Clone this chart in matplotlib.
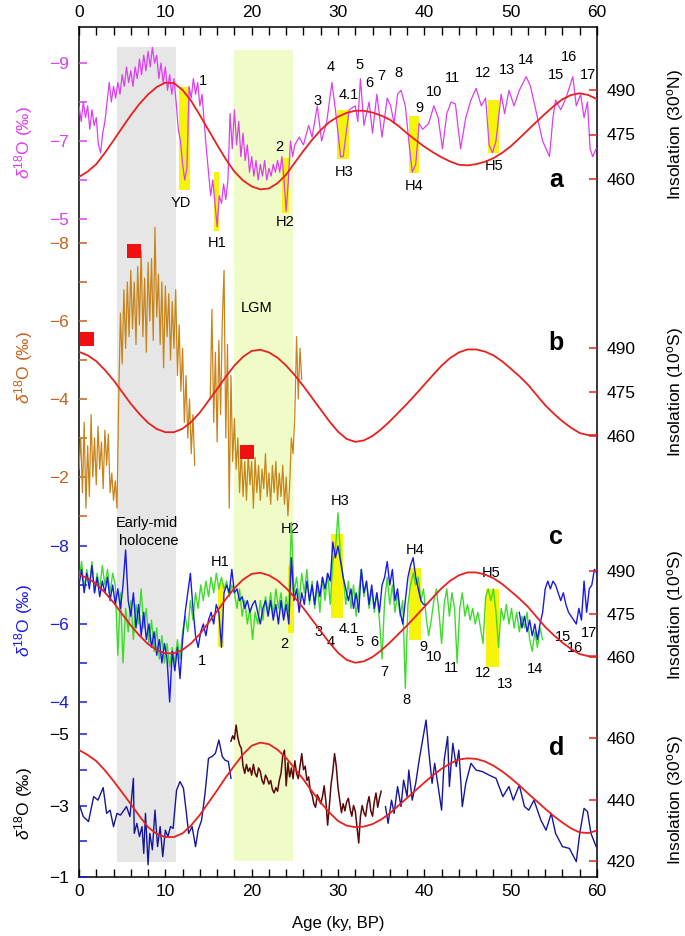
import numpy as np
import matplotlib.pyplot as plt
from matplotlib.patches import Rectangle

plt.rcParams['font.family'] = ['Liberation Sans', 'DejaVu Sans']
plt.rcParams['mathtext.fontset'] = 'custom'
plt.rcParams['mathtext.rm'] = 'Liberation Sans'
plt.rcParams['mathtext.it'] = 'Liberation Sans:italic'
plt.rcParams['mathtext.bf'] = 'Liberation Sans:bold'

# ---------------- data ----------------
# summer insolation (W/m2), read every 1 ky
ins_age = np.arange(0, 61, 1)
ins_30n = [460.7, 462.5, 465, 468.8, 473, 477.3, 481.5, 485.3, 488.5, 491, 492.5,
           492.3, 490, 486.3, 481.5, 476.5, 471.5, 466.7, 462.5, 459.5, 457.5,
           456.5, 456.8, 458.6, 461.5, 465.5, 469.5, 473.2, 476.5, 479.2, 481,
           482.3, 483, 483, 482.4, 481.4, 480, 477.9, 475.4, 473.1, 470.9,
           469, 467.3, 465.9, 464.8, 464.6, 465, 465.8, 467, 468.8, 471,
           473.7, 476.5, 479.3, 482, 484.6, 486.9, 488.3, 488.9, 488.3, 486.9]
ins_10s = [488.7, 487.5, 485.5, 482.5, 479, 475, 471, 467.5, 464.5, 462.4, 461.3,
           461.3, 462.5, 464.8, 468, 472, 476, 480.2, 484, 487, 489,
           489.4, 488.5, 486.7, 484, 480.7, 477, 473, 469, 465, 461.5,
           459, 458, 458.5, 460, 462.3, 465, 468, 471, 474.2, 477.5,
           480.8, 484, 486.6, 488.5, 489.5, 489.5, 488.8, 487.5, 485.5, 483,
           480.4, 477.5, 474, 470.5, 467.6, 465, 462.8, 461, 460.3, 460.3]
ins_30s = [456.1, 454.5, 452.5, 449.5, 446, 442.3, 438.5, 434.6, 431, 428.8, 427.8,
           427.8, 429, 431.6, 435, 439, 443, 447.2, 451, 454.7, 457.5,
           458.5, 458, 456.2, 453.5, 450, 446.5, 442.6, 439, 435.8, 433,
           431.5, 431, 431.2, 432, 433.5, 435.5, 438, 440.5, 443, 445.5,
           447.9, 450, 451.7, 453, 453.4, 453.2, 452.4, 451, 449.2, 447,
           444.6, 442, 439.5, 437, 434.6, 432.5, 430.6, 429.3, 429.1, 429.9]

# (a) 30N speleothem d18O
age_a = np.concatenate([np.linspace(0, 24.75, 100), [
    25.0, 25.5, 26.0, 26.6, 27.0, 27.6, 28.1, 28.7, 29.3, 29.7, 30.0, 30.3, 30.6,
    31.0, 31.3, 32.0, 32.3, 32.6, 33.0, 33.6, 34.0, 34.5, 35.1, 35.7, 36.1, 36.5,
    36.9, 37.3, 37.8, 38.2, 38.6, 39.0, 39.4, 39.8, 40.5, 41.1, 41.6, 42.1, 42.6,
    43.1, 43.6, 44.2, 44.8, 45.4, 46.0, 46.6, 47.1, 47.5, 47.9, 48.3, 48.9, 49.3,
    49.8, 50.4, 51.0, 51.8, 52.3, 53.1, 53.7, 54.5, 54.9, 55.2, 55.8, 56.4, 57.2,
    57.6, 58.1, 58.5, 58.9, 59.2, 59.5, 59.9]])
d18o_a = [
    -7.9, -7.5, -8.0, -7.6, -7.9, -7.3, -7.8, -7.4,
    -7.6, -6.9, -6.7, -7.2, -7.5, -8.0, -8.5, -8.0,
    -8.4, -8.1, -8.5, -8.2, -8.7, -8.4, -8.9, -8.5,
    -8.8, -8.4, -8.9, -8.6, -9.1, -8.7, -9.2, -8.8,
    -9.3, -8.9, -9.4, -9.0, -9.2, -8.6, -9.0, -8.5,
    -8.9, -8.3, -8.7, -8.2, -8.6, -8.0, -7.3, -7.0,
    -6.4, -6.0, -6.3, -8.4, -8.1, -8.6, -8.2, -8.5,
    -7.9, -8.2, -7.5, -6.8, -6.2, -5.6, -6.0, -5.4,
    -4.8, -5.6, -5.4, -5.9, -5.5, -6.0, -7.7, -6.8,
    -7.8, -6.9, -7.5, -6.6, -7.2, -6.5, -6.9, -6.2,
    -6.6, -6.1, -6.5, -6.0, -6.4, -6.1, -6.5, -6.0,
    -6.3, -6.1, -6.4, -6.2, -6.5, -6.2, -6.6, -6.0,
    -5.2, -6.0, -7.0, -6.6,
    -6.9, -7.1, -6.9, -7.4, -7.1, -7.9, -7.0, -7.5, -8.5, -7.8, -7.2, -6.6, -6.6,
    -7.3, -7.8, -7.9, -7.5, -8.6, -7.4, -8.0, -7.2, -8.2, -7.1, -8.1, -7.9, -7.45,
    -8.2, -8.3, -7.9, -7.0, -6.2, -6.4, -7.45, -7.3, -7.45, -7.9, -7.6, -6.8, -7.7,
    -8.0, -7.95, -6.8, -7.6, -8.05, -8.35, -7.9, -8.1, -6.9, -6.7, -7.0, -8.2, -7.7,
    -8.3, -7.9, -8.3, -8.65, -8.4, -7.6, -7.0, -6.6, -7.6, -8.05, -7.8, -8.1, -8.65,
    -7.9, -8.2, -7.6, -8.0, -6.8, -6.6, -6.8]

# (b) 10S speleothem d18O (gap 13.4-15.2 ky)
age_b = np.concatenate([np.linspace(0, 13.4, 68), [14.3], np.linspace(15.2, 25.8, 54)])
d18o_b = [
    -2.2, -3.0, -1.6, -3.4, -1.2, -2.8, -1.5, -3.6, -2.0, -3.0,
    -1.8, -3.3, -2.2, -2.9, -1.7, -3.2, -2.3, -3.1, -1.6, -2.1,
    -1.4, -1.9, -1.2, -4.0, -6.2, -4.9, -6.8, -5.3, -7.0, -5.6,
    -7.3, -5.8, -7.0, -5.4, -7.4, -5.9, -7.8, -5.6, -7.1, -5.2,
    -7.5, -6.0, -7.6, -5.5, -8.4, -6.1, -7.2, -5.4, -7.0, -4.8,
    -6.9, -5.6, -6.7, -5.0, -6.5, -5.3, -6.8, -4.6, -5.9, -4.2,
    -5.3, -3.4, -4.6, -3.0, -4.0, -2.6, -3.6, -2.3,
    np.nan,
    -4.0, -6.3, -3.4, -5.2, -2.9, -5.5, -3.6, -6.0, -7.3, -3.0,
    -5.4, -1.2, -4.6, -2.4, -3.5, -2.2, -3.0, -1.6, -2.7, -1.5,
    -2.4, -1.4, -2.6, -1.8, -2.4, -1.2, -2.5, -1.6, -2.3, -1.4,
    -2.2, -1.7, -2.6, -1.5, -2.1, -1.3, -2.3, -1.6, -2.4, -1.4,
    -2.1, -1.5, -2.3, -1.3, -2.0, -1.0, -1.8, -3.0, -2.6, -3.6,
    -5.6, -4.0, -5.3, -4.5]
sq_age = [0.9, 6.4, 19.5]
sq_d18o = [-5.53, -7.79, -2.65]

# (c) green record, every 0.3 ky
age_c_green = np.linspace(0, 53.7, 180)
d18o_c_green = [
    -7.1, -7.6, -6.9, -7.4, -7.0, -7.6, -6.8, -7.3, -6.9, -7.5,
    -7.0, -7.4, -6.8, -7.3, -7.0, -5.2, -6.8, -5.0, -6.4, -5.8,
    -6.6, -5.6, -6.5, -6.0, -6.9, -5.9, -6.4, -5.5, -6.1, -5.3,
    -5.9, -5.1, -5.7, -5.0, -5.5, -4.9, -5.4, -5.0, -5.6, -5.1,
    -5.8, -6.2, -5.8, -6.6, -6.1, -6.8, -6.4, -7.0, -6.6, -7.1,
    -6.7, -7.2, -6.8, -7.3, -6.9, -7.2, -6.9, -7.1, -6.7, -7.0,
    -6.8, -6.4, -6.9, -6.2, -6.6, -6.0, -6.4, -5.6, -6.3, -6.0,
    -6.6, -6.1, -6.7, -6.3, -6.8, -6.2, -6.9, -6.4, -6.8, -6.2,
    -6.7, -6.3, -8.6, -6.8, -7.2, -6.6, -7.3, -6.8, -7.4, -6.5,
    -7.1, -6.4, -7.0, -6.3, -7.2, -6.6, -7.3, -6.5, -7.6, -7.9,
    -8.85, -7.7, -7.2, -6.5, -7.1, -6.4, -7.0, -6.2, -6.8, -7.4,
    -6.7, -7.1, -6.4, -6.9, -6.3, -6.8, -6.1, -5.1, -6.6, -7.2,
    -6.5, -7.0, -6.3, -6.8, -6.2, -6.6, -4.35, -6.5, -7.0, -7.3,
    -7.0, -7.2, -6.6, -6.9, -6.2, -5.7, -6.1, -6.6, -6.9, -6.3,
    -5.5, -6.5, -6.9, -6.2, -6.8, -6.4, -5.0, -6.4, -6.8, -6.2,
    -6.5, -6.1, -6.4, -6.0, -6.3, -5.9, -5.5, -6.7, -6.9, -6.6,
    -6.9, -6.3, -5.4, -6.4, -6.1, -6.5, -6.0, -6.4, -5.9, -6.3,
    -5.8, -6.2, -5.9, -6.3, -5.6, -5.3, -5.8, -5.4, -5.9, -5.6]

# (c) blue record, every 0.3 ky (gap 40.2-51 ky)
age_c_blue = np.concatenate([np.linspace(0, 40.2, 135), [45.6], np.linspace(51.0, 60.0, 31)])
d18o_c_blue = [
    -7.0, -7.4, -6.8, -7.3, -6.9, -7.5, -6.8, -7.2, -6.7, -7.1,
    -6.8, -7.2, -6.6, -7.0, -6.5, -6.9, -6.4, -7.0, -7.9, -6.6,
    -6.2, -6.8, -5.9, -6.5, -5.7, -6.3, -5.6, -6.0, -5.4, -5.8,
    -5.2, -5.6, -5.0, -5.5, -5.1, -4.0, -5.3, -4.8, -5.4, -4.6,
    -5.6, -6.3, -6.8, -7.3, -6.4, -5.7, -5.4, -5.8, -6.0, -5.7,
    -6.1, -6.3, -6.0, -6.5, -6.3, -5.4, -6.8, -7.0, -6.8, -7.4,
    -6.8, -6.9, -6.6, -6.7, -6.4, -6.6, -6.3, -6.5, -6.6, -6.3,
    -6.0, -6.4, -6.6, -6.2, -6.6, -6.1, -6.5, -6.0, -6.6, -6.1,
    -6.5, -6.0, -7.7, -6.6, -6.9, -6.3, -6.8, -6.5, -7.1, -6.6,
    -7.0, -6.5, -7.1, -6.7, -7.2, -6.9, -7.3, -7.1, -8.1, -7.7,
    -8.0, -7.6, -7.2, -6.9, -6.6, -6.9, -6.4, -6.8, -6.3, -7.4,
    -6.8, -7.1, -6.5, -7.0, -6.4, -6.8, -6.3, -7.0, -7.2, -7.6,
    -7.0, -7.4, -6.6, -6.9, -6.3, -6.0, -6.6, -7.2, -7.5, -7.7,
    -7.2, -6.9, -6.6, -6.5, -6.5,
    np.nan,
    -6.3, -5.9, -6.2, -5.8, -6.1, -5.7, -6.0, -5.6, -6.0, -6.3,
    -6.9, -7.1, -6.9, -7.1, -7.0, -6.8, -6.6, -6.8, -6.5, -6.3,
    -6.2, -6.1, -6.0, -6.4, -6.1, -7.1, -6.3, -6.9, -7.0, -7.4, -7.3]

# (d) 30S records
age_d_blue = [0.1, 0.5, 1.1, 1.7, 2.2, 2.8, 3.2, 3.6, 4.0, 4.4, 4.8, 5.5, 5.9, 6.3,
              6.4, 6.7, 7.0, 7.3, 7.5, 7.7, 8.0, 8.2, 8.5, 8.8, 9.1, 9.4, 9.7, 10.0,
              10.3, 10.6, 10.9, 11.3, 11.7, 12.1, 12.4, 12.7, 13.1, 13.5, 13.8, 14.2,
              14.6, 15.0, 15.4, 15.8, 16.2, 16.6, 16.9, 17.3, 17.6,
              26.0,
              35.5, 35.8, 36.2, 36.5, 36.9, 37.3, 37.6, 38.0, 38.2, 38.6, 39.0, 39.4,
              39.8, 40.2, 40.5, 40.9, 41.2, 41.6, 42.0, 42.3, 42.7, 42.9, 43.3, 43.7,
              44.0, 44.4, 44.8, 45.4, 46.0, 46.7, 47.5, 48.3, 49.1, 49.8, 50.3, 51.0,
              51.6, 52.1, 52.7, 53.5, 54.1, 54.7, 55.2, 56.0, 56.8, 57.6, 58.0, 58.5,
              58.9, 59.3, 59.9]
d18o_d_blue = [-2.97, -2.69, -2.55, -3.25, -3.15, -3.5, -2.78, -2.87, -2.41, -2.78,
               -2.73, -2.97, -2.69, -3.76, -2.22, -2.5, -2.13, -2.41, -1.66, -2.78,
               -1.34, -2.22, -1.76, -2.87, -1.85, -2.41, -1.57, -2.31, -2.13, -2.41,
               -2.36, -3.43, -3.67, -3.48, -2.87, -2.22, -2.41, -1.85, -2.31, -2.59,
               -3.34, -4.32, -4.37, -4.46, -4.83, -4.37, -4.27, -4.23, -3.76,
               np.nan,
               -2.97, -2.5, -3.15, -2.78, -3.53, -2.97, -3.71, -3.25, -3.99, -3.15,
               -3.62, -4.27, -4.83, -5.39, -4.55, -3.62, -4.18, -3.53, -2.87, -4.27,
               -4.93, -3.53, -4.74, -4.09, -4.55, -2.97, -3.62, -4.18, -3.99, -3.95,
               -3.85, -3.76, -3.25, -3.53, -3.15, -3.57, -2.97, -2.87, -3.15, -2.59,
               -2.31, -2.78, -2.22, -1.85, -1.8, -1.43, -2.22, -2.92, -2.83, -2.22,
               -1.85]
age_d_red = np.linspace(17.6, 35.0, 88)
d18o_d_red = [
    -4.80, -4.95, -4.85, -5.25, -4.90, -4.70, -4.60, -4.10, -3.90, -4.15,
    -3.95, -4.05, -3.85, -4.15, -3.90, -3.80, -4.05, -3.95, -3.70, -3.60,
    -3.85, -3.75, -3.60, -3.70, -3.45, -3.35, -3.50, -3.40, -3.70, -3.90,
    -4.40, -4.55, -3.55, -4.20, -3.80, -4.05, -3.75, -4.25, -3.90, -3.75,
    -4.10, -4.45, -4.00, -4.10, -3.70, -3.80, -3.40, -3.30, -3.05, -2.95,
    -3.30, -3.20, -3.05, -3.25, -3.55, -3.10, -2.45, -3.00, -3.60, -3.95,
    -4.45, -4.10, -3.50, -3.15, -2.80, -3.05, -2.85, -3.10, -3.20, -2.90,
    -2.70, -3.00, -2.85, -2.40, -1.95, -2.70, -3.00, -2.80, -2.70, -3.05,
    -3.25, -2.85, -2.70, -3.10, -3.35, -2.95, -3.20, -3.40]

# Heinrich / YD bands: (start, end, top d18O, bottom d18O)
bands_a = [(11.6, 12.9, -8.38, -5.74), (15.6, 16.2, -6.2, -4.7), (23.5, 24.3, -6.56, -5.15),
           (29.9, 31.3, -7.8, -6.53), (38.2, 39.4, -7.64, -6.17), (47.4, 48.6, -8.05, -6.68)]
bands_c = [(16.1, 16.75, -7.04, -5.42), (24.2, 24.9, -7.5, -5.76), (29.2, 30.6, -8.3, -6.15),
           (38.2, 39.6, -7.44, -5.6), (47.2, 48.6, -6.91, -4.89)]

# ---------------- layout (pixels of a 685 x 936 image) ----------------
FW, FH = 685, 936
PX_L, PX_R, PX_T, PX_B = 79, 597, 27, 877
rect = [PX_L / FW, 1 - PX_B / FH, (PX_R - PX_L) / FW, (PX_B - PX_T) / FH]

MAG, ORA, ORA_T, GRN, BLU, NAVY, DRED, RED = ('#dc3ef0', '#c8841a', '#c4621e', '#3ddc2a',
                                             '#1a1ae6', '#16169a', '#5a0a0a', '#e8201e')
YEL = '#f6f40a'


def lims(v0, p0, v1, p1):
    k = (v1 - v0) / (p1 - p0)
    return v0 + k * (PX_B - p0), v0 + k * (PX_T - p0)


fig = plt.figure(figsize=(FW / 100, FH / 100), dpi=100)

frame = fig.add_axes(rect)
frame.set_xlim(0, 60)
frame.set_ylim(PX_B, PX_T)
frame.set_xticks(range(0, 61, 10))
frame.set_xticks(range(0, 61, 2), minor=True)
frame.set_yticks([])
frame.tick_params(axis='x', which='both', direction='in', top=True, bottom=True,
                  labeltop=True, labelsize=12.5, length=5.5, width=1, pad=5)
for s in frame.spines.values():
    s.set_linewidth(1.1)
frame.set_xlabel('Age (ky, BP)', fontsize=12, labelpad=12)
frame.add_patch(Rectangle((4.4, 47), 11.25 - 4.4, 862 - 47, color='#e6e6e6', lw=0, zorder=0))
frame.add_patch(Rectangle((17.9, 50), 24.75 - 17.9, 861 - 50, color='#effcc8', lw=0, zorder=0))


def layer(ylim, side, ticks, labels, tcolor, lcolor):
    ax = fig.add_axes(rect)
    ax.patch.set_visible(False)
    for s in ax.spines.values():
        s.set_visible(False)
    ax.set_xlim(0, 60)
    ax.set_ylim(*ylim)
    ax.xaxis.set_visible(False)
    if side == 'right':
        ax.yaxis.tick_right()
    ax.set_yticks(ticks)
    ax.set_yticklabels(labels)
    ax.tick_params(axis='y', direction='in', length=6, width=1.1, color=tcolor,
                   labelcolor=lcolor, labelsize=12.5, pad=7)
    return ax


def neg(v):
    return '\u2212%d' % abs(v)


# panel a
axa = layer(lims(-9, 63, -5, 219), 'left', [-9, -8, -7, -6, -5],
            [neg(-9), '', neg(-7), '', neg(-5)], MAG, MAG)
for x0, x1, t, b in bands_a:
    axa.add_patch(Rectangle((x0, t), x1 - x0, b - t, color=YEL, lw=0, zorder=1))
axa.plot(age_a, d18o_a, color=MAG, lw=0.9, zorder=2)
ia = layer(lims(490, 90, 460, 179), 'right', [460, 475, 490], ['460', '475', '490'], RED, 'black')
ia.plot(ins_age, ins_30n, color=RED, lw=1.3)

# panel b
axb = layer(lims(-8, 243, -2, 477), 'left', list(range(-8, 0)),
            [neg(-8), '', neg(-6), '', neg(-4), '', neg(-2), ''], ORA_T, ORA_T)
axb.plot(age_b, d18o_b, color=ORA, lw=0.9)
axb.plot(sq_age, sq_d18o, 's', color='#f01010', ms=9.5, mew=0)
ib = layer(lims(490, 348, 460, 436), 'right', [460, 475, 490], ['460', '475', '490'], RED, 'black')
ib.plot(ins_age, ins_10s, color=RED, lw=1.3)

# panel c
axc = layer(lims(-8, 546, -4, 702), 'left', [-8, -7, -6, -5, -4],
            [neg(-8), '', neg(-6), '', neg(-4)], BLU, BLU)
for x0, x1, t, b in bands_c:
    axc.add_patch(Rectangle((x0, t), x1 - x0, b - t, color=YEL, lw=0, zorder=1))
axc.plot(age_c_green, d18o_c_green, color=GRN, lw=1.0, zorder=2)
axc.plot(age_c_blue, d18o_c_blue, color=BLU, lw=1.0, zorder=3)
ic = layer(lims(490, 571, 460, 657), 'right', [460, 475, 490], ['460', '475', '490'], RED, 'black')
ic.plot(ins_age, ins_10s, color=RED, lw=1.3)

# panel d
axd = layer(lims(-5, 734, -1, 877), 'left', [-5, -4, -3, -2, -1],
            [neg(-5), '', neg(-3), '', neg(-1)], BLU, 'black')
axd.plot(age_d_blue, d18o_d_blue, color=NAVY, lw=1.0)
axd.plot(age_d_red, d18o_d_red, color=DRED, lw=1.1)
idd = layer(lims(460, 738, 420, 861), 'right', [420, 440, 460], ['420', '440', '460'], RED, 'black')
idd.plot(ins_age, ins_30s, color=RED, lw=1.3)

# axis titles
ylab = r'$\delta^{18}$O (‰)'
for yc, col in [(142, MAG), (367, ORA_T), (620, BLU), (803, 'black')]:
    fig.text(24 / FW, 1 - yc / FH, ylab, rotation=90, ha='center', va='center',
             fontsize=12.5, color=col)
for yc, lab in [(135, r'Insolation (30$^{\mathrm{o}}$N)'), (392, r'Insolation (10$^{\mathrm{o}}$S)'),
                (615, r'Insolation (10$^{\mathrm{o}}$S)'), (800, r'Insolation (30$^{\mathrm{o}}$S)')]:
    fig.text(675 / FW, 1 - yc / FH, lab, rotation=90, ha='center', va='center', fontsize=12.5)

# annotations (age, pixel row)
notes = [('1', 14.4, 81), ('YD', 11.8, 203), ('H1', 16.0, 243), ('2', 23.2, 147),
         ('H2', 23.9, 222), ('3', 27.6, 101), ('4', 29.2, 67), ('4.1', 31.2, 95),
         ('H3', 30.7, 172), ('5', 32.5, 65), ('6', 33.6, 83), ('7', 35.0, 76),
         ('8', 37.0, 73), ('9', 39.4, 108), ('10', 41.1, 92), ('11', 43.3, 78),
         ('12', 46.8, 73), ('13', 49.6, 70), ('14', 51.8, 60), ('15', 55.2, 75),
         ('16', 56.8, 57), ('17', 58.9, 75), ('H4', 38.8, 186), ('H5', 48.1, 166),
         ('LGM', 20.6, 308),
         ('Early-mid', 7.85, 523), ('holocene', 8.1, 541), ('H1', 16.4, 562),
         ('1', 14.2, 661), ('H2', 24.4, 529), ('2', 23.8, 644), ('H3', 30.3, 501),
         ('3', 27.8, 632), ('4', 29.1, 642), ('4.1', 31.2, 629), ('5', 32.5, 642),
         ('6', 34.2, 642), ('7', 35.4, 672), ('8', 37.95, 700), ('H4', 38.9, 550),
         ('9', 39.9, 647), ('10', 41.1, 657), ('11', 43.1, 668), ('12', 46.8, 673),
         ('13', 49.4, 684), ('H5', 47.7, 573), ('14', 52.8, 669), ('15', 56.1, 637),
         ('16', 57.4, 648), ('17', 59.1, 633)]
for s, x, y in notes:
    frame.text(x, y, s, ha='center', va='center', fontsize=10.5, zorder=5)
for s, y in [('a', 180), ('b', 343), ('c', 537), ('d', 748)]:
    frame.text(55.3, y, s, ha='center', va='center', fontsize=18, fontweight='bold', zorder=5)

fig.savefig('out.png', dpi=100)
